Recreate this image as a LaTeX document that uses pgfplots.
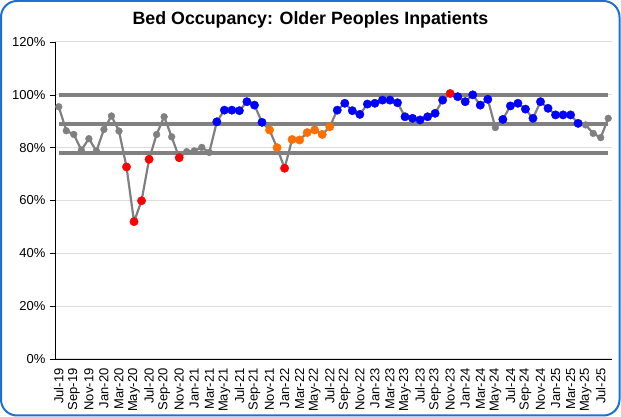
\documentclass[border=0pt]{standalone}
\usepackage{pgfplots}
\pgfplotsset{compat=1.18}
\usepackage{pgfplotstable}
\usepackage{fontspec}
\setmainfont{Liberation Sans}
\definecolor{frameblue}{RGB}{32,112,208}
\definecolor{spcgrey}{RGB}{128,128,128}
\definecolor{spcblue}{RGB}{0,0,255}
\definecolor{spcred}{RGB}{255,0,0}
\definecolor{spcorange}{RGB}{255,110,0}
\definecolor{gridgrey}{RGB}{222,222,222}
\pgfplotstableread{
x y c
0 95.5 g
1 86.4 g
2 85.0 g
3 79.1 g
4 83.4 g
5 78.7 g
6 86.9 g
7 92.0 g
8 86.3 g
9 72.7 r
10 52.0 r
11 59.9 r
12 75.6 r
13 85.0 g
14 91.7 g
15 84.1 g
16 76.2 r
17 78.5 g
18 78.8 g
19 80.1 g
20 78.2 g
21 89.8 b
22 94.2 b
23 94.2 b
24 94.0 b
25 97.4 b
26 96.1 b
27 89.6 b
28 86.7 o
29 80.0 o
30 72.2 r
31 83.1 o
32 82.9 o
33 85.7 o
34 86.7 o
35 85.0 o
36 87.9 o
37 94.2 b
38 96.8 b
39 94.0 b
40 92.6 b
41 96.5 b
42 96.8 b
43 98.0 b
44 98.0 b
45 97.0 b
46 91.7 b
47 91.1 b
48 90.5 b
49 91.7 b
50 93.0 b
51 98.0 b
52 100.5 r
53 99.3 b
54 97.4 b
55 100.0 b
56 96.1 b
57 98.3 b
58 87.6 g
59 90.7 b
60 95.8 b
61 96.8 b
62 94.6 b
63 91.1 b
64 97.4 b
65 94.9 b
66 92.4 b
67 92.4 b
68 92.4 b
69 89.2 b
70 88.6 g
71 85.4 g
72 83.8 g
73 91.1 g
}\occdata
\begin{document}
\begin{tikzpicture}
\path (0pt,0pt) rectangle (621pt,417pt);
\draw[frameblue, line width=2pt, rounded corners=16pt] (1pt,1.5pt) rectangle (619.5pt,416pt);
\node[font=\fontsize{17.8}{21}\selectfont\bfseries] at (310.5pt,397pt) {Bed Occupancy: Older Peoples Inpatients};
\begin{axis}[
  at={(55pt,58pt)}, anchor=south west,
  scale only axis, width=557pt, height=317pt,
  xmin=-0.5, xmax=73.5, ymin=0, ymax=120,
  axis x line*=bottom, axis y line*=left,
  axis line style={black, line width=0.8pt},
  xtick={0,2,...,72},
  xticklabels={Jul-19,Sep-19,Nov-19,Jan-20,Mar-20,May-20,Jul-20,Sep-20,Nov-20,Jan-21,Mar-21,May-21,Jul-21,Sep-21,Nov-21,Jan-22,Mar-22,May-22,Jul-22,Sep-22,Nov-22,Jan-23,Mar-23,May-23,Jul-23,Sep-23,Nov-23,Jan-24,Mar-24,May-24,Jul-24,Sep-24,Nov-24,Jan-25,Mar-25,May-25,Jul-25},
  minor xtick={-0.5,0.5,...,73.5},
  x tick label style={rotate=90, anchor=east, font=\fontsize{13}{15}\selectfont},
  xtick style={draw=none},
  minor x tick style={black, line width=0.6pt},
  ytick={0,20,...,120},
  yticklabels={0\%,20\%,40\%,60\%,80\%,100\%,120\%},
  y tick label style={font=\fontsize{13}{15}\selectfont},
  ytick style={black, line width=0.6pt},
  tick align=outside,
  major tick length=5pt, minor tick length=5pt,
  ymajorgrids, grid style={gridgrey, line width=1pt},
  xticklabel shift=1pt, yticklabel shift=1pt,
  clip=false,
]
\addplot[spcgrey, line width=3.5pt, forget plot] coordinates {(0,99.9) (73,99.9)};
\addplot[spcgrey, line width=3.5pt, forget plot] coordinates {(0,88.9) (73,88.9)};
\addplot[spcgrey, line width=3.5pt, forget plot] coordinates {(0,77.9) (73,77.9)};
\addplot[spcgrey, line width=2.2pt, no marks] table[x=x,y=y] {\occdata};
\addplot[only marks, scatter, scatter src=explicit symbolic,
  scatter/classes={
    g={mark=*, mark size=3.4pt, draw=spcgrey, fill=spcgrey},
    b={mark=*, mark size=4.2pt, draw=spcblue, fill=spcblue},
    r={mark=*, mark size=4.2pt, draw=spcred, fill=spcred},
    o={mark=*, mark size=4.2pt, draw=spcorange, fill=spcorange}}
] table[x=x,y=y,meta=c] {\occdata};
\end{axis}
\end{tikzpicture}
\end{document}
